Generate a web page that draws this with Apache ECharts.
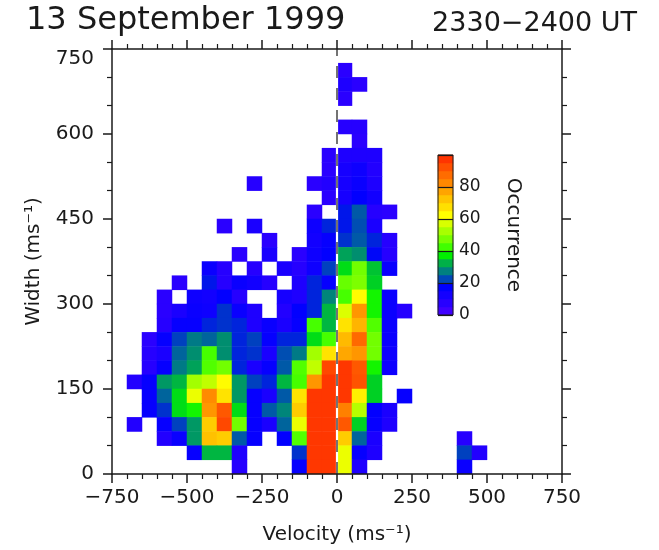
<!DOCTYPE html>
<html>
<head>
<meta charset="utf-8">
<title>13 September 1999 2330-2400 UT</title>
<script src="https://cdn.jsdelivr.net/npm/echarts@6/dist/echarts.min.js"></script>
<style>
  html, body { margin: 0; padding: 0; background: #fff; }
  #chart { width: 659px; height: 550px; }
</style>
</head>
<body>
<div id="chart"></div>
<script>
// Velocity bin centres (m/s), 50 m/s bins from -750 to 750
const velocityBins = [-725, -675, -625, -575, -525, -475, -425, -375, -325, -275,
                      -225, -175, -125, -75, -25, 25, 75, 125, 175, 225,
                      275, 325, 375, 425, 475, 525, 575, 625, 675, 725];

// Spectral width bin centres (m/s), 25 m/s bins from 0 to 750
const widthBins = [12.5, 37.5, 62.5, 87.5, 112.5, 137.5, 162.5, 187.5, 212.5, 237.5,
                   262.5, 287.5, 312.5, 337.5, 362.5, 387.5, 412.5, 437.5, 462.5, 487.5,
                   512.5, 537.5, 562.5, 587.5, 612.5, 637.5, 662.5, 687.5, 712.5, 737.5];

// Occurrence counts, one row per width bin, listed from the top bin (725-750) down to 0-25.
// Columns follow velocityBins; 0 means no samples.
const occurrence = [
  /* 725 */ [0,0,0,0,0,0,0,0,0,0, 0,0,0,0,0,0,0,0,0,0, 0,0,0,0,0,0,0,0,0,0],
  /* 700 */ [0,0,0,0,0,0,0,0,0,0, 0,0,0,0,0,7,0,0,0,0, 0,0,0,0,0,0,0,0,0,0],
  /* 675 */ [0,0,0,0,0,0,0,0,0,0, 0,0,0,0,0,10,7,0,0,0, 0,0,0,0,0,0,0,0,0,0],
  /* 650 */ [0,0,0,0,0,0,0,0,0,0, 0,0,0,0,0,7,0,0,0,0, 0,0,0,0,0,0,0,0,0,0],
  /* 625 */ [0,0,0,0,0,0,0,0,0,0, 0,0,0,0,0,0,0,0,0,0, 0,0,0,0,0,0,0,0,0,0],
  /* 600 */ [0,0,0,0,0,0,0,0,0,0, 0,0,0,0,0,8,8,0,0,0, 0,0,0,0,0,0,0,0,0,0],
  /* 575 */ [0,0,0,0,0,0,0,0,0,0, 0,0,0,0,0,0,7,0,0,0, 0,0,0,0,0,0,0,0,0,0],
  /* 550 */ [0,0,0,0,0,0,0,0,0,0, 0,0,0,0,7,10,10,10,0,0, 0,0,0,0,0,0,0,0,0,0],
  /* 525 */ [0,0,0,0,0,0,0,0,0,0, 0,0,0,0,7,12,14,9,0,0, 0,0,0,0,0,0,0,0,0,0],
  /* 500 */ [0,0,0,0,0,0,0,0,0,8, 0,0,0,7,9,12,15,10,0,0, 0,0,0,0,0,0,0,0,0,0],
  /* 475 */ [0,0,0,0,0,0,0,0,0,0, 0,0,0,0,7,12,17,13,0,0, 0,0,0,0,0,0,0,0,0,0],
  /* 450 */ [0,0,0,0,0,0,0,0,0,0, 0,0,0,7,0,19,24,8,7,0, 0,0,0,0,0,0,0,0,0,0],
  /* 425 */ [0,0,0,0,0,0,0,7,0,11, 0,0,0,14,20,19,23,11,0,0, 0,0,0,0,0,0,0,0,0,0],
  /* 400 */ [0,0,0,0,0,0,0,0,0,0, 7,0,0,13,16,21,24,20,8,0, 0,0,0,0,0,0,0,0,0,0],
  /* 375 */ [0,0,0,0,0,0,0,0,7,0, 11,0,7,14,17,31,29,18,8,0, 0,0,0,0,0,0,0,0,0,0],
  /* 350 */ [0,0,0,0,0,0,15,8,0,8, 0,11,8,14,22,36,47,34,15,0, 0,0,0,0,0,0,0,0,0,0],
  /* 325 */ [0,0,0,0,7,0,19,8,15,13, 8,0,10,20,16,46,48,35,0,0, 0,0,0,0,0,0,0,0,0,0],
  /* 300 */ [0,0,0,7,0,14,13,17,8,0, 0,12,10,20,28,43,63,39,15,0, 0,0,0,0,0,0,0,0,0,0],
  /* 275 */ [0,0,0,7,11,15,14,21,15,10, 0,9,17,20,33,58,80,39,15,8, 0,0,0,0,0,0,0,0,0,0],
  /* 250 */ [0,0,0,8,16,16,20,21,20,10, 15,11,16,43,33,67,75,44,15,0, 0,0,0,0,0,0,0,0,0,0],
  /* 225 */ [0,0,7,16,22,27,25,29,20,22, 16,20,20,36,43,74,88,47,15,0, 0,0,0,0,0,0,0,0,0,0],
  /* 200 */ [0,0,8,11,25,29,43,29,20,21, 11,23,27,52,67,77,80,47,14,0, 0,0,0,0,0,0,0,0,0,0],
  /* 175 */ [0,0,8,16,27,31,44,47,20,11, 16,24,44,55,94,97,91,39,14,0, 0,0,0,0,0,0,0,0,0,0],
  /* 150 */ [0,9,16,30,33,52,55,63,30,22, 20,33,43,80,97,97,92,35,0,0, 0,0,0,0,0,0,0,0,0,0],
  /* 125 */ [0,0,16,25,36,60,82,67,30,16, 11,24,67,97,97,97,65,35,0,16, 0,0,0,0,0,0,0,0,0,0],
  /* 100 */ [0,0,16,21,36,39,80,91,36,16, 24,28,71,97,97,84,54,17,11,0, 0,0,0,0,0,0,0,0,0,0],
  /*  75 */ [0,9,0,16,22,30,71,94,47,16, 11,25,60,97,97,91,35,16,10,0, 0,0,0,0,0,0,0,0,0,0],
  /*  50 */ [0,0,0,9,15,30,73,71,24,16, 0,17,44,97,97,71,25,11,0,0, 0,0,0,8,0,0,0,0,0,0],
  /*  25 */ [0,0,0,0,0,16,33,33,10,0, 0,0,21,97,97,60,16,10,0,0, 0,0,0,22,9,0,0,0,0,0],
  /*   0 */ [0,0,0,0,0,0,0,0,8,0, 0,0,16,97,97,60,10,0,0,0, 0,0,0,15,0,0,0,0,0,0]
];

// Colour bar levels (centres of the 5-count bands)
const barLevels = [2.5, 7.5, 12.5, 17.5, 22.5, 27.5, 32.5, 37.5, 42.5, 47.5,
                   52.5, 57.5, 62.5, 67.5, 72.5, 77.5, 82.5, 87.5, 92.5, 97.5];

// Rainbow colour table, one colour per band
const palette = ['#4000ff', '#2800ff', '#1400ff', '#0000ff', '#0048b8',
                 '#008080', '#00b048', '#00f000', '#40ff00', '#78ff00',
                 '#a8ff00', '#d8ff00', '#ffff00', '#ffe000', '#ffc400',
                 '#ffa400', '#ff8800', '#ff6c00', '#ff5000', '#ff3400'];

// Zero-velocity reference line
const zeroLine = [[0, 0], [0, 750]];

const FONT = 'DejaVu Sans';
const INK = '#1a1a1a';

// Heatmap cells: [velocity index, width index, count]
const cells = [];
occurrence.forEach((row, i) => {
  const wIdx = occurrence.length - 1 - i;
  row.forEach((v, vIdx) => {
    if (v > 0) cells.push([vIdx, wIdx, v]);
  });
});
const barCells = barLevels.map((v, i) => [0, i, v]);

const minus = v => (v < 0 ? '\u2212' + Math.abs(v) : String(v));

const frameAxis = {
  z: 5,
  axisLine: { show: true, onZero: false, lineStyle: { color: INK, width: 1.5 } },
  axisTick: { show: true, inside: false, length: 9, lineStyle: { color: INK, width: 1.5 } },
  minorTick: { show: true, length: 5, lineStyle: { color: INK, width: 1.2 } },
  splitLine: { show: false }
};

const chart = echarts.init(document.getElementById('chart'), null, { renderer: 'canvas' });

chart.setOption({
  backgroundColor: '#fff',
  animation: false,
  title: [
    { text: '13 September 1999', left: 21, top: 0,
      textStyle: { fontFamily: FONT, fontSize: 32, fontWeight: 'normal', color: INK } },
    { text: '2330\u22122400 UT', right: 17, top: 5,
      textStyle: { fontFamily: FONT, fontSize: 27, fontWeight: 'normal', color: INK } }
  ],
  grid: [
    { left: 112, top: 49, width: 450, height: 426 },
    { left: 438, top: 155, width: 15, height: 160, show: true, z: 6,
      backgroundColor: 'transparent', borderColor: INK, borderWidth: 1 }
  ],
  visualMap: {
    type: 'continuous', show: false, min: 2.5, max: 97.5,
    seriesIndex: [0, 3], dimension: 2,
    inRange: { color: palette }
  },
  xAxis: [
    { type: 'category', gridIndex: 0, data: velocityBins, show: false },
    Object.assign({}, frameAxis, {
      type: 'value', gridIndex: 0, position: 'bottom', min: -750, max: 750, interval: 250,
      minorTick: Object.assign({}, frameAxis.minorTick, { splitNumber: 5 }),
      axisLabel: { fontFamily: FONT, fontSize: 20, color: INK, margin: 14, formatter: minus },
      name: 'Velocity (ms\u207B\u00B9)', nameLocation: 'middle', nameGap: 51,
      nameTextStyle: { fontFamily: FONT, fontSize: 20, color: INK }
    }),
    Object.assign({}, frameAxis, {
      type: 'value', gridIndex: 0, position: 'top', min: -750, max: 750, interval: 250,
      minorTick: Object.assign({}, frameAxis.minorTick, { splitNumber: 5 }),
      axisLabel: { show: false }
    }),
    { type: 'category', gridIndex: 1, data: ['bar'], show: false }
  ],
  yAxis: [
    { type: 'category', gridIndex: 0, data: widthBins, show: false },
    Object.assign({}, frameAxis, {
      type: 'value', gridIndex: 0, position: 'left', min: 0, max: 750, interval: 150,
      minorTick: Object.assign({}, frameAxis.minorTick, { splitNumber: 3 }),
      axisLabel: { fontFamily: FONT, fontSize: 20, color: INK, margin: 18,
                   verticalAlignMaxLabel: 'top' },
      name: 'Width (ms\u207B\u00B9)', nameLocation: 'middle', nameGap: 68, nameRotate: 90,
      nameTextStyle: { fontFamily: FONT, fontSize: 20, color: INK }
    }),
    Object.assign({}, frameAxis, {
      type: 'value', gridIndex: 0, position: 'right', min: 0, max: 750, interval: 150,
      minorTick: Object.assign({}, frameAxis.minorTick, { splitNumber: 3 }),
      axisLabel: { show: false }
    }),
    { type: 'category', gridIndex: 1, data: barLevels, show: false },
    {
      type: 'value', gridIndex: 1, position: 'right', min: 0, max: 100, interval: 20, z: 7,
      axisLine: { show: false }, axisTick: { show: false },
      splitLine: { show: true, lineStyle: { color: INK, width: 1.2 } },
      axisLabel: { fontFamily: FONT, fontSize: 17, color: INK, margin: 6,
                   formatter: v => (v === 100 ? '' : String(v)) },
      name: 'Occurrence', nameLocation: 'middle', nameGap: 50, nameRotate: -90,
      nameTextStyle: { fontFamily: FONT, fontSize: 20, color: INK }
    }
  ],
  series: [
    {
      type: 'heatmap', xAxisIndex: 0, yAxisIndex: 0, data: cells,
      emphasis: { disabled: true }, z: 2
    },
    {
      type: 'line', xAxisIndex: 1, yAxisIndex: 1, data: zeroLine, symbol: 'none', z: 3,
      lineStyle: { color: '#ffffff', width: 2.2 }, silent: true
    },
    {
      type: 'line', xAxisIndex: 1, yAxisIndex: 1, data: zeroLine, symbol: 'none', z: 4,
      lineStyle: { color: '#444444', width: 1.5, type: [12, 10] }, silent: true
    },
    {
      type: 'heatmap', xAxisIndex: 3, yAxisIndex: 3, data: barCells,
      emphasis: { disabled: true }, z: 2
    }
  ]
});
</script>
</body>
</html>
